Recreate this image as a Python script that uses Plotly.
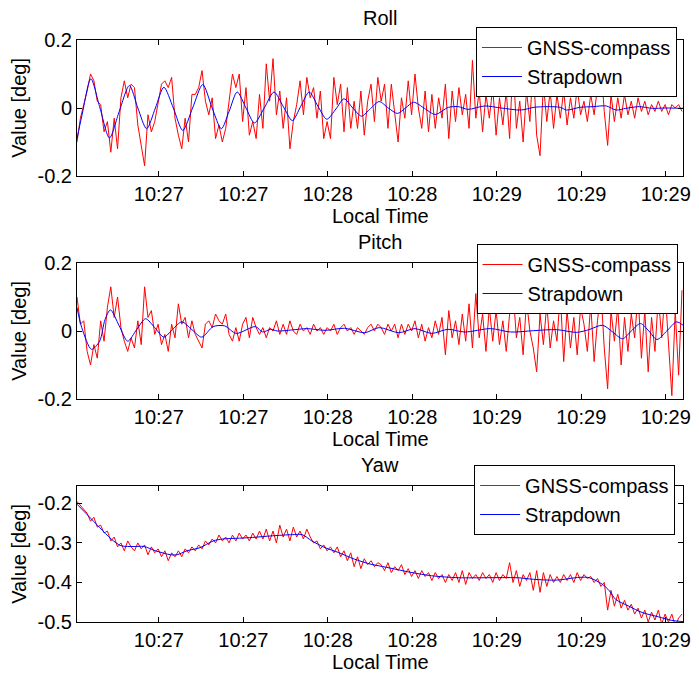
import numpy as np
import plotly.graph_objects as go

FONT = "Liberation Sans, Arial, Helvetica, sans-serif"
FS = 20

# ---- time axis (seconds since start of window) ----
time_red = np.arange(180)  # GNSS-compass samples, 1 s apart
x_range = [0, 179.3]
tick_vals = [24.2, 49.2, 74.2, 99.2, 124.2, 149.2, 174.2]
tick_text = ["10:27", "10:27", "10:28", "10:28", "10:29", "10:29", "10:29"]

# ---- Roll ----
roll_gnss = [
    -0.10, -0.03, 0.01, 0.05, 0.10, 0.08, 0.02, 0.01, -0.07, -0.04,
    -0.13, -0.03, -0.12, 0.03, 0.08, 0.03, 0.07, 0.06, -0.05, -0.11,
    -0.17, -0.02, -0.07, -0.04, 0.01, 0.07, 0.08, 0.06, 0.09, -0.03,
    -0.08, -0.12, -0.03, -0.10, 0.04, 0.04, 0.06, 0.11, 0.02, -0.02,
    0.03, -0.09, -0.05, -0.10, -0.06, 0.02, 0.10, 0.06, 0.10, -0.04,
    0.06, -0.08, -0.04, -0.09, 0.04, -0.06, 0.13, 0.02, 0.145, -0.02,
    0.05, -0.06, 0.03, -0.12, -0.04, 0.01, 0.08, -0.02, 0.09, 0.03,
    0.06, -0.03, 0.05, -0.09, -0.04, -0.09, 0.09, 0.01, 0.07, -0.07,
    0.06, -0.06, 0.02, -0.06, 0.05, -0.08, 0.02, 0.07, -0.04, 0.09,
    0.02, 0.07, -0.06, 0.07, -0.02, -0.10, 0.03, -0.03, 0.08, -0.02,
    0.10, 0.00, -0.06, 0.05, -0.07, 0.04, -0.06, 0.03, -0.03, 0.07,
    -0.09, 0.05, -0.04, 0.06, -0.02, 0.04, -0.06, 0.14, -0.03, 0.05,
    -0.07, 0.04, -0.03, 0.06, -0.08, 0.03, -0.05, 0.05, -0.09, 0.14,
    -0.06, 0.02, -0.10, 0.05, -0.04, 0.13, -0.08, -0.14, 0.07, -0.04,
    0.05, -0.06, 0.04, -0.03, 0.05, -0.05, 0.03, -0.03, 0.06, -0.02,
    0.02, -0.04, 0.04, -0.02, 0.06, 0.13, -0.01, -0.11, 0.04, -0.04,
    0.03, -0.03, 0.04, -0.02, 0.02, -0.03, 0.03, -0.01, 0.02, -0.02,
    0.01, -0.01, 0.02, -0.01, 0.01, -0.02, 0.01, 0.00, 0.01, -0.01,
]
roll_sd_t = [0, 1.5, 4.1, 6.8, 9.6, 12.5, 15.5, 18.0, 20.6, 23.2, 25.7, 28.5, 31.3, 34.2,
             37.2, 40.0, 42.7, 45.0, 47.4, 50.0, 52.5, 55.4, 58.3, 61.0, 63.7, 66.2, 68.7,
             71.3, 73.9, 76.6, 79.0, 81.6, 84.2, 86.8, 89.4, 92.1, 94.8, 97.2, 99.6, 102.8,
             106.0, 109.9, 112.8, 115.7, 120.6, 125.5, 131.3, 135.2, 139.1, 143.0, 144.9,
             148.8, 152.7, 156.6, 159.5, 162.4, 166.4, 170.2, 174.1, 179.3]
roll_sd = [-0.09, -0.02, 0.086, 0.0, -0.088, -0.01, 0.066, 0.0, -0.061, 0.0, 0.061, 0.0,
           -0.066, 0.0, 0.069, 0.0, -0.061, -0.01, 0.047, 0.0, -0.044, 0.0, 0.047, 0.005,
           -0.037, 0.005, 0.047, 0.005, -0.033, -0.003, 0.027, 0.0, -0.024, -0.002, 0.019,
           0.0, -0.016, 0.0, 0.017, -0.001, -0.019, 0.002, 0.004, -0.004, 0.006, 0.0,
           -0.006, 0.002, 0.004, 0.002, -0.006, 0.002, 0.004, 0.006, -0.006, -0.001,
           0.004, -0.001, 0.0, -0.001]

# ---- Pitch ----
pitch_gnss = [
    0.10, 0.02, 0.03, -0.06, -0.10, -0.04, -0.08, 0.03, -0.03, 0.07,
    0.13, 0.04, 0.10, 0.01, -0.03, -0.06, -0.02, -0.05, 0.03, -0.04,
    0.13, 0.04, 0.06, -0.01, 0.02, -0.04, -0.01, -0.06, 0.02, -0.02,
    0.08, 0.02, 0.04, -0.02, 0.03, -0.01, -0.03, -0.05, 0.02, 0.03,
    0.01, 0.05, 0.03, 0.02, 0.05, -0.01, -0.03, 0.01, -0.03, 0.02,
    0.04, -0.02, 0.04, 0.01, -0.01, 0.01, -0.02, 0.01, 0.00, 0.03,
    -0.01, 0.02, -0.01, 0.03, 0.00, -0.01, 0.02, 0.00, 0.01, -0.01,
    0.02, 0.00, 0.01, -0.01, 0.01, 0.00, 0.02, -0.01, 0.01, 0.02,
    0.00, 0.01, -0.01, 0.01, 0.00, -0.01, 0.01, 0.02, 0.00, 0.02,
    0.01, -0.01, 0.02, 0.00, 0.02, -0.02, 0.02, -0.01, 0.02, 0.00,
    0.03, -0.02, 0.02, -0.03, 0.01, -0.02, 0.03, -0.01, 0.04, -0.07,
    0.06, -0.02, 0.03, -0.04, 0.05, -0.03, 0.08, -0.05, 0.11, -0.02,
    0.05, -0.06, 0.07, -0.03, 0.06, -0.04, 0.03, -0.06, 0.05, 0.12,
    -0.02, 0.04, -0.07, 0.09, 0.00, -0.05, -0.12, 0.05, -0.04, 0.08,
    -0.05, 0.03, -0.03, 0.11, -0.09, 0.06, -0.05, 0.04, -0.07, 0.07,
    0.02, -0.06, 0.08, -0.09, 0.03, 0.12, -0.05, -0.17, 0.06, -0.03,
    0.07, -0.10, 0.04, -0.06, 0.05, -0.02, 0.11, -0.08, 0.06, -0.12,
    0.04, -0.06, 0.10, -0.02, 0.12, -0.04, -0.19, 0.06, -0.13, 0.12,
]
pitch_sd_t = [0, 1.4, 4.3, 6.7, 8.3, 9.9, 12.5, 15.0, 17.7, 20.3, 23.0, 25.7, 28.3, 31.0,
              34.0, 36.9, 40.3, 43.7, 47.1, 52.8, 54.9, 57.3, 59.3, 63.5, 68.0, 73.4, 79.2,
              85.1, 89.4, 95.2, 100.0, 104.9, 109.8, 114.7, 122.4, 128.3, 135.1, 141.9,
              147.8, 151.5, 155.5, 158.5, 161.4, 164.0, 166.7, 169.2, 171.6, 174.5, 177.4,
              179.3]
pitch_sd = [0.069, 0.01, -0.054, -0.03, 0.034, 0.062, 0.015, -0.03, 0.005, 0.036, 0.01,
            -0.018, 0.005, 0.027, 0.004, -0.018, 0.013, 0.015, -0.007, 0.013, -0.003,
            0.005, 0.0, 0.003, 0.007, 0.002, 0.008, -0.005, 0.01, -0.005, 0.007, -0.007,
            0.005, -0.003, 0.007, -0.003, 0.001, 0.004, -0.004, 0.004, 0.017, -0.003,
            -0.023, 0.0, 0.022, 0.0, -0.025, 0.0, 0.027, 0.017]

# ---- Yaw ----
yaw_gnss = [
    -0.195, -0.205, -0.215, -0.225, -0.245, -0.235, -0.26, -0.255, -0.275, -0.27,
    -0.295, -0.285, -0.31, -0.30, -0.32, -0.295, -0.31, -0.32, -0.30, -0.315,
    -0.305, -0.33, -0.31, -0.325, -0.315, -0.335, -0.32, -0.345, -0.325, -0.335,
    -0.32, -0.335, -0.315, -0.325, -0.31, -0.32, -0.305, -0.315, -0.295, -0.305,
    -0.29, -0.30, -0.28, -0.295, -0.285, -0.30, -0.28, -0.295, -0.275, -0.29,
    -0.28, -0.295, -0.275, -0.29, -0.27, -0.29, -0.265, -0.295, -0.27, -0.30,
    -0.255, -0.285, -0.265, -0.295, -0.26, -0.285, -0.27, -0.29, -0.265, -0.285,
    -0.30, -0.295, -0.315, -0.305, -0.32, -0.31, -0.325, -0.31, -0.335, -0.32,
    -0.345, -0.325, -0.36, -0.335, -0.365, -0.34, -0.355, -0.345, -0.36, -0.35,
    -0.355, -0.37, -0.35, -0.375, -0.36, -0.37, -0.355, -0.38, -0.365, -0.385,
    -0.37, -0.39, -0.37, -0.385, -0.375, -0.395, -0.375, -0.39, -0.38, -0.40,
    -0.38, -0.395, -0.375, -0.40, -0.37, -0.405, -0.375, -0.39, -0.38, -0.395,
    -0.375, -0.39, -0.38, -0.40, -0.375, -0.395, -0.38, -0.39, -0.35, -0.40,
    -0.37, -0.41, -0.38, -0.395, -0.375, -0.42, -0.37, -0.425, -0.375, -0.41,
    -0.38, -0.40, -0.385, -0.40, -0.38, -0.395, -0.38, -0.40, -0.375, -0.395,
    -0.38, -0.39, -0.385, -0.40, -0.39, -0.41, -0.40, -0.47, -0.42, -0.46,
    -0.43, -0.465, -0.445, -0.47, -0.455, -0.48, -0.465, -0.49, -0.47, -0.50,
    -0.475, -0.495, -0.47, -0.505, -0.48, -0.50, -0.48, -0.51, -0.49, -0.48,
]
yaw_sd_t = [0, 3.3, 6.7, 10.1, 13.0, 16.9, 19.8, 23.3, 27.7, 29.6, 32.5, 36.4, 40.3, 43.2,
            48.1, 52.0, 57.8, 63.7, 66.6, 69.5, 73.4, 77.3, 82.1, 87.0, 89.4, 94.0, 99.1,
            104.9, 112.7, 121.5, 130.2, 135.1, 141.9, 148.7, 151.6, 155.5, 157.5, 159.4,
            163.3, 167.2, 172.1, 176.0, 179.3]
yaw_sd = [-0.202, -0.231, -0.261, -0.29, -0.307, -0.309, -0.309, -0.32, -0.33, -0.33,
          -0.32, -0.312, -0.295, -0.29, -0.288, -0.286, -0.282, -0.279, -0.279, -0.295,
          -0.312, -0.324, -0.341, -0.354, -0.358, -0.366, -0.375, -0.383, -0.388, -0.388,
          -0.388, -0.392, -0.394, -0.387, -0.388, -0.405, -0.421, -0.443, -0.46, -0.476,
          -0.487, -0.496, -0.499]

panels = [
    ("Roll", roll_gnss, roll_sd_t, roll_sd, [-0.2, 0.2], [-0.2, 0, 0.2], ["-0.2", "0", "0.2"]),
    ("Pitch", pitch_gnss, pitch_sd_t, pitch_sd, [-0.2, 0.2], [-0.2, 0, 0.2], ["-0.2", "0", "0.2"]),
    ("Yaw", yaw_gnss, yaw_sd_t, yaw_sd, [-0.5, -0.156], [-0.5, -0.4, -0.3, -0.2],
     ["-0.5", "-0.4", "-0.3", "-0.2"]),
]

# layout geometry (pixels) -> paper fractions
W, H = 699, 673
ML, MR, MT, MB = 77, 8, 40, 51
PH = H - MT - MB
def py(pix):
    return (H - MB - pix) / PH

domains = [[py(176), py(40)], [py(399), py(263)], [py(622), py(486)]]
legend_tops = [py(27), py(244), py(465)]
legend_right = [0.990, 0.991, 0.987]
title_y = [py(18), py(241.5), py(465)]
xlabel_y = [py(215.5), py(439), py(661.5)]

fig = go.Figure()
axis_common = dict(showline=True, linecolor="black", linewidth=1, mirror="ticks",
                   ticks="inside", ticklen=5, tickcolor="black", showgrid=False,
                   zeroline=False, tickfont=dict(size=FS, color="black", family=FONT))
annotations = []
for i, (name, gnss, sd_t, sd, yr, yt, ytt) in enumerate(panels):
    k = "" if i == 0 else str(i + 1)
    leg = "legend" + k
    fig.add_trace(go.Scatter(x=time_red, y=gnss, mode="lines", name="GNSS-compass",
                             line=dict(color="#ff0000", width=1), xaxis="x" + k,
                             yaxis="y" + k, legend=leg))
    fig.add_trace(go.Scatter(x=sd_t, y=sd, mode="lines", name="Strapdown",
                             line=dict(color="#0000ff", width=1, shape="spline", smoothing=0.8),
                             xaxis="x" + k, yaxis="y" + k, legend=leg))
    fig.layout["xaxis" + k] = dict(axis_common, domain=[0, 1], anchor="y" + k, range=x_range,
                                   tickmode="array", tickvals=tick_vals, ticktext=tick_text)
    fig.layout["yaxis" + k] = dict(axis_common, domain=domains[i], anchor="x" + k, range=yr,
                                   tickmode="array", tickvals=yt, ticktext=ytt)
    fig.layout[leg] = dict(x=legend_right[i], xanchor="right", y=legend_tops[i], yanchor="top",
                           bgcolor="white", bordercolor="black", borderwidth=1,
                           font=dict(size=FS, color="black", family=FONT),
                           tracegroupgap=0, itemwidth=40)
    annotations.append(dict(text=name, x=0.5, y=title_y[i], xref="paper", yref="paper",
                            xanchor="center", yanchor="middle", showarrow=False,
                            font=dict(size=FS, color="black", family=FONT)))
    annotations.append(dict(text="Local Time", x=0.5, y=xlabel_y[i], xref="paper", yref="paper",
                            xanchor="center", yanchor="middle", showarrow=False,
                            font=dict(size=FS, color="black", family=FONT)))
    annotations.append(dict(text="Value [deg]", x=(18 - ML) / (W - ML - MR),
                            y=sum(domains[i]) / 2, xref="paper", yref="paper",
                            xanchor="center", yanchor="middle", textangle=-90, showarrow=False,
                            font=dict(size=FS, color="black", family=FONT)))

fig.update_layout(width=W, height=H, margin=dict(l=ML, r=MR, t=MT, b=MB),
                  paper_bgcolor="white", plot_bgcolor="white", showlegend=True,
                  annotations=annotations)
fig.write_html("out.html")
